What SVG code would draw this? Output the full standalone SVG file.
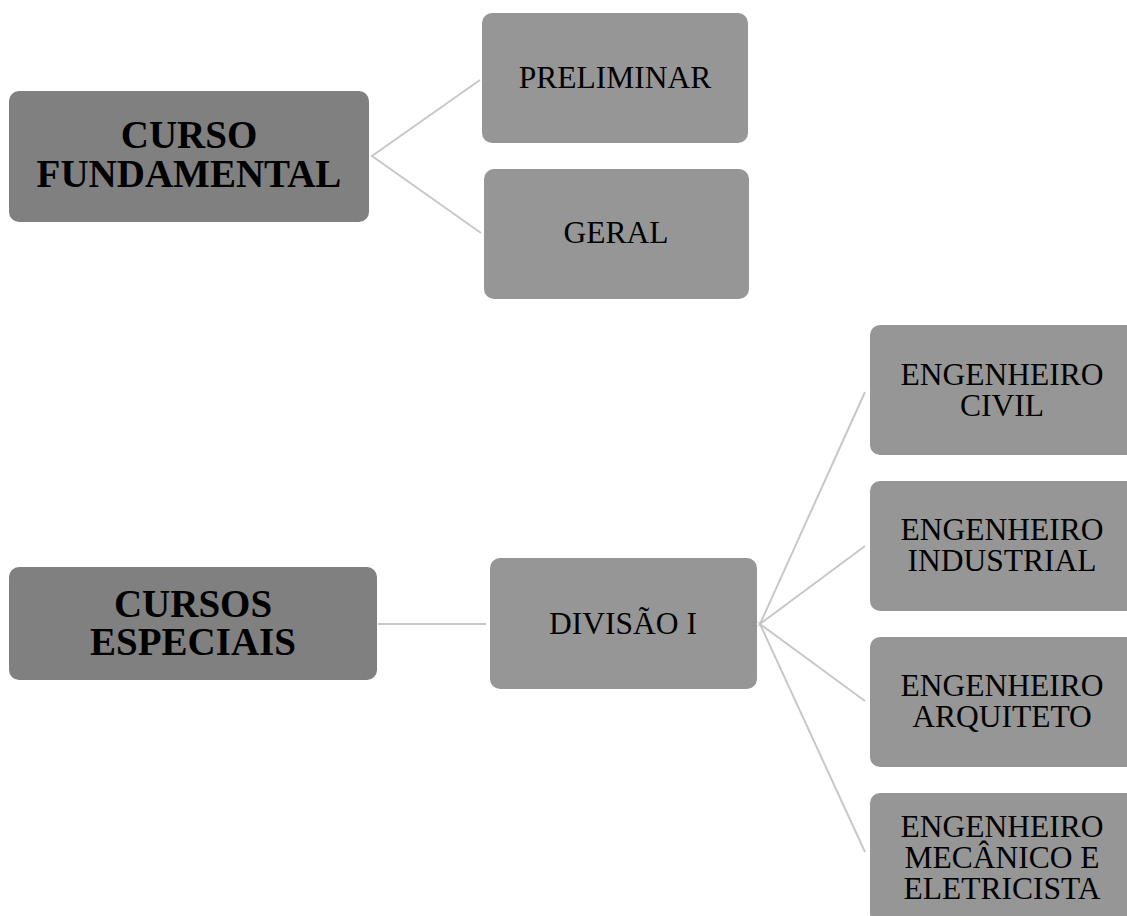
<svg xmlns="http://www.w3.org/2000/svg" width="1127" height="916" viewBox="0 0 1127 916">
<style>
.dark{fill:#808080}
.light{fill:#969696}
.t{font-family:"Liberation Serif","Times New Roman",serif;fill:#000;text-anchor:middle}
.b{font-weight:bold;font-size:39px}
.r{font-size:31.5px}
.c{stroke:#c8c8c8;stroke-width:2;fill:none}
</style>
<rect width="1127" height="916" fill="#fff"/>
<g id="connectors">
<path class="c" d="M480,80 L372,156 L481,233"/>
<path class="c" d="M378,624 L486,624"/>
<path class="c" d="M865,392 L760,624 L865,546"/>
<path class="c" d="M865,701 L760,624 L865,852"/>
</g>
<g id="curso-fundamental">
<rect class="dark" x="9" y="91" width="360" height="131" rx="10"/>
<text class="t b" x="189" y="148">CURSO</text>
<text class="t b" x="189" y="187">FUNDAMENTAL</text>
</g>
<g id="preliminar">
<rect class="light" x="482" y="13" width="266" height="130" rx="10"/>
<text class="t r" x="615" y="88">PRELIMINAR</text>
</g>
<g id="geral">
<rect class="light" x="484" y="169" width="265" height="130" rx="10"/>
<text class="t r" x="616" y="243">GERAL</text>
</g>
<g id="cursos-especiais">
<rect class="dark" x="9" y="567" width="368" height="113" rx="10"/>
<text class="t b" x="193" y="617">CURSOS</text>
<text class="t b" x="193" y="655">ESPECIAIS</text>
</g>
<g id="divisao-i">
<rect class="light" x="490" y="558" width="267" height="131" rx="10"/>
<text class="t r" x="623" y="634">DIVISÃO I</text>
</g>
<g id="eng-civil">
<rect class="light" x="870" y="325" width="266" height="130" rx="10"/>
<text class="t r" x="1002" y="385">ENGENHEIRO</text>
<text class="t r" x="1002" y="416">CIVIL</text>
</g>
<g id="eng-industrial">
<rect class="light" x="870" y="481" width="266" height="130" rx="10"/>
<text class="t r" x="1002" y="540">ENGENHEIRO</text>
<text class="t r" x="1002" y="571">INDUSTRIAL</text>
</g>
<g id="eng-arquiteto">
<rect class="light" x="870" y="637" width="266" height="130" rx="10"/>
<text class="t r" x="1002" y="696">ENGENHEIRO</text>
<text class="t r" x="1002" y="727">ARQUITETO</text>
</g>
<g id="eng-mecanico">
<rect class="light" x="870" y="793" width="266" height="130" rx="10"/>
<text class="t r" x="1002" y="837">ENGENHEIRO</text>
<text class="t r" x="1002" y="868">MECÂNICO E</text>
<text class="t r" x="1002" y="899">ELETRICISTA</text>
</g>
</svg>
